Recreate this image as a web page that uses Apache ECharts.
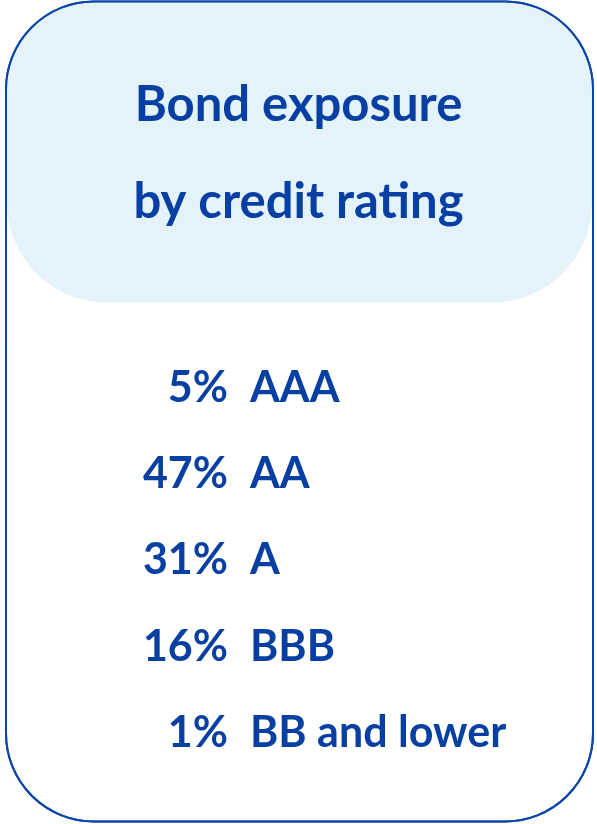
<!DOCTYPE html>
<html>
<head>
<meta charset="utf-8">
<script src="https://cdn.jsdelivr.net/npm/echarts@6/dist/echarts.min.js"></script>
<style>
html,body{margin:0;padding:0;background:#fff;}
#chart{width:597px;height:824px;}
</style>
</head>
<body>
<div id="chart"></div>
<script>
const titleLines = ['Bond exposure', 'by credit rating'];
const categories = ['AAA', 'AA', 'A', 'BBB', 'BB and lower'];
const shares = [5, 47, 31, 16, 1];

const blue = '#083FA3';
const font = 'Lato';
const labelStyle = {color: blue, fontFamily: font, fontWeight: 'bold', fontSize: 43};
const chart = echarts.init(document.getElementById('chart'), null, {renderer: 'canvas'});
chart.setOption({
  backgroundColor: '#ffffff',
  animation: false,
  graphic: [
    {type: 'rect', z: 0, shape: {x: 6, y: 1.5, width: 587, height: 820, r: 88},
     style: {fill: '#ffffff', stroke: '#0B45AA', lineWidth: 2}},
    {type: 'rect', z: 1, shape: {x: 7, y: 2.5, width: 585, height: 300, r: [87, 87, 100, 100]},
     style: {fill: '#E4F3FA'}},
    {type: 'rect', z: 2, shape: {x: 6, y: 1.5, width: 587, height: 820, r: 88},
     style: {fill: 'none', stroke: '#0B45AA', lineWidth: 2}}
  ],
  title: {
    text: titleLines.join('\n'),
    left: 'center',
    top: 52,
    textStyle: {color: blue, fontFamily: font, fontWeight: 'bold', fontSize: 49, lineHeight: 97}
  },
  grid: {left: 239, right: 20, top: 345, height: 431},
  xAxis: {type: 'value', show: false, min: 0, max: 100},
  yAxis: [{
    type: 'category', data: categories, inverse: true, position: 'left',
    axisLine: {show: false}, axisTick: {show: false}, splitLine: {show: false},
    axisLabel: Object.assign({margin: 11, formatter: (v, i) => shares[i] + '%'}, labelStyle)
  }, {
    type: 'category', data: categories, inverse: true, position: 'right', offset: -338,
    axisLine: {show: false}, axisTick: {show: false}, splitLine: {show: false},
    axisLabel: Object.assign({margin: 11}, labelStyle)
  }],
  series: [{
    type: 'scatter', symbolSize: 0, silent: true, yAxisIndex: 0,
    data: shares.map((s, i) => [s, categories[i]])
  }]
});
</script>
</body>
</html>
